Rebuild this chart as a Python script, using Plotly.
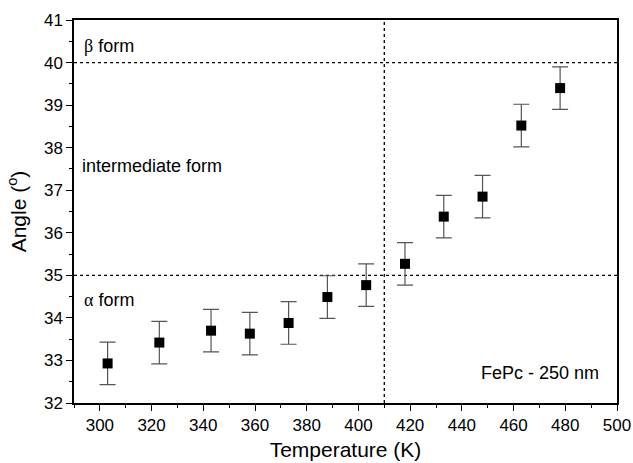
import plotly.graph_objects as go

temperature = [303, 323, 343, 358, 373, 388, 403, 418, 433, 448, 463, 478]
angle = [32.93, 33.42, 33.70, 33.63, 33.88, 34.49, 34.77, 35.27, 36.38, 36.85, 38.52, 39.40]
angle_err = [0.5] * 12

alpha_limit = 35
beta_limit = 40
temp_limit = 410

x_range = [290, 500]
y_range = [32, 41]

font = "Liberation Sans, Arial, sans-serif"

fig = go.Figure()
fig.add_trace(go.Scatter(
    x=temperature, y=angle, mode="markers",
    marker=dict(symbol="square", size=10, color="black"),
    error_y=dict(type="data", array=angle_err, visible=True, color="#555555", thickness=1.2, width=8),
    showlegend=False,
))

dot = dict(color="black", width=1.3, dash="dot")
fig.add_shape(type="line", x0=x_range[0], x1=x_range[1], y0=beta_limit, y1=beta_limit, line=dot, layer="below")
fig.add_shape(type="line", x0=x_range[0], x1=x_range[1], y0=alpha_limit, y1=alpha_limit, line=dot, layer="below")
fig.add_shape(type="line", x0=temp_limit, x1=temp_limit, y0=y_range[0], y1=y_range[1], line=dot, layer="below")

ann_font = dict(family=font, size=18, color="black")
greek = "<span style='font-family:Liberation Serif, Times New Roman, serif'>%s</span>"
fig.add_annotation(x=293, y=40.38, text=(greek % "β") + " form", showarrow=False, xanchor="left", font=ann_font)
fig.add_annotation(x=292.3, y=37.56, text="intermediate form", showarrow=False, xanchor="left", font=ann_font)
fig.add_annotation(x=293, y=34.43, text=(greek % "α") + " form", showarrow=False, xanchor="left", font=ann_font)
fig.add_annotation(x=494, y=32.71, text="FePc - 250 nm", showarrow=False, xanchor="right", font=ann_font)

axis_common = dict(
    showgrid=False, zeroline=False, showline=True, linecolor="black", linewidth=1.5,
    mirror=True, ticks="outside", tickcolor="black", tickwidth=1.3, ticklen=6,
    tickfont=dict(family=font, size=17, color="black"), automargin=False,
)
fig.update_xaxes(
    range=x_range, dtick=20, tick0=300,
    minor=dict(dtick=10, ticks="outside", ticklen=3, tickcolor="black", tickwidth=1.2),
    title=dict(text="Temperature (K)", font=dict(family=font, size=21, color="black"), standoff=8),
    **axis_common,
)
fig.update_yaxes(
    range=y_range, dtick=1,
    minor=dict(dtick=0.5, ticks="outside", ticklen=3, tickcolor="black", tickwidth=1.2),
    title=dict(text="Angle (<sup>o</sup>)", font=dict(family=font, size=21, color="black"), standoff=12),
    **axis_common,
)

fig.update_layout(
    width=633, height=463,
    margin=dict(l=74, r=16, t=20, b=60),
    plot_bgcolor="white", paper_bgcolor="white",
)

fig.write_html("out.html")
